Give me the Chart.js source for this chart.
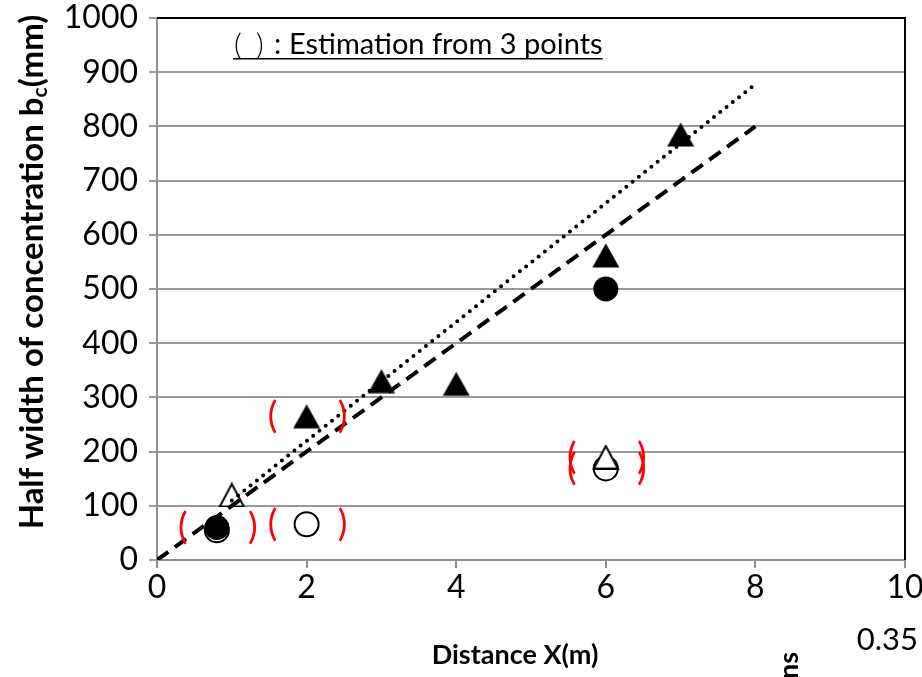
<!DOCTYPE html>
<html>
<head>
<meta charset="utf-8">
<script src="https://cdn.jsdelivr.net/npm/chart.js@4.4.1/dist/chart.umd.min.js"></script>
<style>
  html, body { margin: 0; padding: 0; background: #fff; }
  #wrap { width: 922px; height: 677px; position: relative; }
</style>
</head>
<body>
<div id="wrap"><canvas id="bcChart"></canvas></div>
<script>
// axis ranges
const xTicks = [0, 2, 4, 6, 8, 10];
const yTicks = [0, 100, 200, 300, 400, 500, 600, 700, 800, 900, 1000];

// measured half widths
const triFilledX = [2, 3, 4, 6, 7];
const triFilledY = [265, 330, 325, 562, 785];
const dotFilledX = [0.8, 6];
const dotFilledY = [60, 500];
const triOpenX = [1, 6];
const triOpenY = [120, 190];
const dotOpenX = [0.8, 2, 6];
const dotOpenY = [55, 66, 169];

// fitted lines
const fitDottedX = [1, 8];
const fitDottedY = [110, 878];
const fitDashedX = [0, 8];
const fitDashedY = [0, 800];

// values estimated from 3 points (shown in red brackets)
const bracketX = [0.8, 2, 2, 6, 6];
const bracketY = [60, 265, 66, 190, 169];

const FONT = 'Lato, "Open Sans", sans-serif';

function pts(xs, ys) {
    return xs.map((v, i) => ({ x: v, y: ys[i] }));
}

// triangle marker centred on its bounding box
function triangleMarker(filled) {
    const w = 28, h = 25;
    const c = document.createElement('canvas');
    c.width = w; c.height = h;
    const g = c.getContext('2d');
    g.beginPath();
    if (filled) {
        g.moveTo(w / 2, 0.5); g.lineTo(w - 0.5, h - 0.5); g.lineTo(0.5, h - 0.5);
        g.closePath();
        g.fillStyle = '#000';
        g.fill();
    } else {
        g.moveTo(w / 2, 1.5); g.lineTo(w - 2, h - 1); g.lineTo(2, h - 1);
        g.closePath();
        g.fillStyle = '#fff';
        g.fill();
        g.lineWidth = 2;
        g.strokeStyle = '#000';
        g.stroke();
    }
    return c;
}

const notesPlugin = {
    id: 'notes',
    afterDatasetsDraw(chart) {
        const { ctx, chartArea: a, scales: { x, y } } = chart;
        ctx.save();

        // black frame on top and right
        ctx.strokeStyle = '#000';
        ctx.lineWidth = 2;
        ctx.beginPath();
        ctx.moveTo(a.left, a.top);
        ctx.lineTo(a.right, a.top);
        ctx.lineTo(a.right, a.bottom);
        ctx.stroke();

        // red brackets round estimated points
        ctx.fillStyle = '#ff0000';
        ctx.font = '36px Lato, "Liberation Sans"';
        ctx.textAlign = 'center';
        ctx.textBaseline = 'middle';
        bracketX.forEach((v, i) => {
            const px = x.getPixelForValue(v);
            const py = y.getPixelForValue(bracketY[i]);
            ctx.fillText('(', px - 34, py);
            ctx.fillText(')', px + 36, py);
        });

        // note at the top
        ctx.fillStyle = '#000';
        ctx.textAlign = 'left';
        ctx.textBaseline = 'alphabetic';
        ctx.font = '300 30px ' + FONT;
        ctx.fillText('(', 234, 55);
        ctx.fillText(')', 256, 55);
        ctx.font = '29px ' + FONT;
        ctx.fillText(':', 274, 54);
        ctx.fillText('Estimation from 3 points', 289, 54);
        const end = 289 + ctx.measureText('Estimation from 3 points').width;
        ctx.fillRect(233, 58, end - 233, 1.5);

        // axis titles
        ctx.font = 'bold 27px ' + FONT;
        ctx.textAlign = 'center';
        ctx.textBaseline = 'middle';
        ctx.fillText('Distance X(m)', 515, 655);

        ctx.save();
        ctx.translate(32, 272);
        ctx.rotate(-Math.PI / 2);
        const big = 'bold 33px ' + FONT, small = 'bold 21px ' + FONT;
        const main = 'Half width of concentration b';
        const tail = '(mm)';
        ctx.font = big;
        const mw = ctx.measureText(main).width;
        const tw = ctx.measureText(tail).width;
        ctx.font = small;
        const sw = ctx.measureText('c').width;
        let cx = -(mw + sw + tw) / 2;
        ctx.textAlign = 'left';
        ctx.font = big;
        ctx.fillText(main, cx, 0);
        cx += mw;
        ctx.font = small;
        ctx.fillText('c', cx, 8);
        cx += sw;
        ctx.font = big;
        ctx.fillText(tail, cx, 0);
        ctx.restore();

        // stray labels at the bottom edge
        ctx.font = '31px ' + FONT;
        ctx.textAlign = 'right';
        ctx.fillText('0.35', 918, 640);
        ctx.save();
        ctx.translate(789, 652);
        ctx.rotate(-Math.PI / 2);
        ctx.font = 'bold 27px ' + FONT;
        ctx.textAlign = 'right';
        ctx.fillText('ns', 0, 0);
        ctx.restore();

        ctx.restore();
    }
};

const ctx = document.getElementById('bcChart').getContext('2d');

new Chart(ctx, {
    type: 'scatter',
    data: {
        datasets: [
            {
                label: 'fit (dotted)',
                data: pts(fitDottedX, fitDottedY),
                showLine: true,
                borderColor: '#000',
                borderWidth: 4,
                borderDash: [0, 8],
                borderCapStyle: 'round',
                pointRadius: 0
            },
            {
                label: 'fit (dashed)',
                data: pts(fitDashedX, fitDashedY),
                showLine: true,
                borderColor: '#000',
                borderWidth: 4,
                borderDash: [14, 8],
                pointRadius: 0
            },
            {
                label: 'filled triangle',
                data: pts(triFilledX, triFilledY),
                pointStyle: triangleMarker(true)
            },
            {
                label: 'filled circle',
                data: pts(dotFilledX, dotFilledY),
                pointStyle: 'circle',
                pointRadius: 12.5,
                pointBorderWidth: 0,
                pointBackgroundColor: '#000',
                pointBorderColor: '#000'
            },
            {
                label: 'open triangle',
                data: pts(triOpenX, triOpenY),
                pointStyle: triangleMarker(false)
            },
            {
                label: 'open circle',
                data: pts(dotOpenX, dotOpenY),
                pointStyle: 'circle',
                pointRadius: 12,
                pointBorderWidth: 2,
                pointBackgroundColor: '#fff',
                pointBorderColor: '#000'
            }
        ]
    },
    options: {
        responsive: true,
        maintainAspectRatio: false,
        animation: false,
        events: [],
        layout: {
            padding: { top: 18, right: 17, left: 0, bottom: 0 }
        },
        plugins: {
            legend: { display: false },
            tooltip: { enabled: false }
        },
        scales: {
            x: {
                type: 'linear',
                min: xTicks[0],
                max: xTicks[xTicks.length - 1],
                afterBuildTicks: s => { s.ticks = xTicks.map(v => ({ value: v })); },
                afterFit: s => { s.height = 117; s.paddingLeft = 0; s.paddingRight = 0; },
                border: { color: '#8f8f8f', width: 2 },
                grid: {
                    drawOnChartArea: false,
                    drawTicks: true,
                    tickLength: 8,
                    color: '#8f8f8f',
                    lineWidth: 2
                },
                ticks: {
                    color: '#000',
                    padding: 0,
                    maxRotation: 0,
                    callback: v => String(v),
                    font: { family: FONT, size: 32 }
                }
            },
            y: {
                type: 'linear',
                min: yTicks[0],
                max: yTicks[yTicks.length - 1],
                afterBuildTicks: s => { s.ticks = yTicks.map(v => ({ value: v })); },
                afterFit: s => { s.width = 157; s.paddingTop = 0; s.paddingBottom = 0; },
                border: { color: '#8f8f8f', width: 2 },
                grid: {
                    drawTicks: true,
                    tickLength: 8,
                    color: '#999',
                    lineWidth: 2
                },
                ticks: {
                    color: '#000',
                    padding: 11,
                    callback: v => String(v),
                    font: { family: FONT, size: 32 }
                }
            }
        }
    },
    plugins: [notesPlugin]
});
</script>
</body>
</html>
